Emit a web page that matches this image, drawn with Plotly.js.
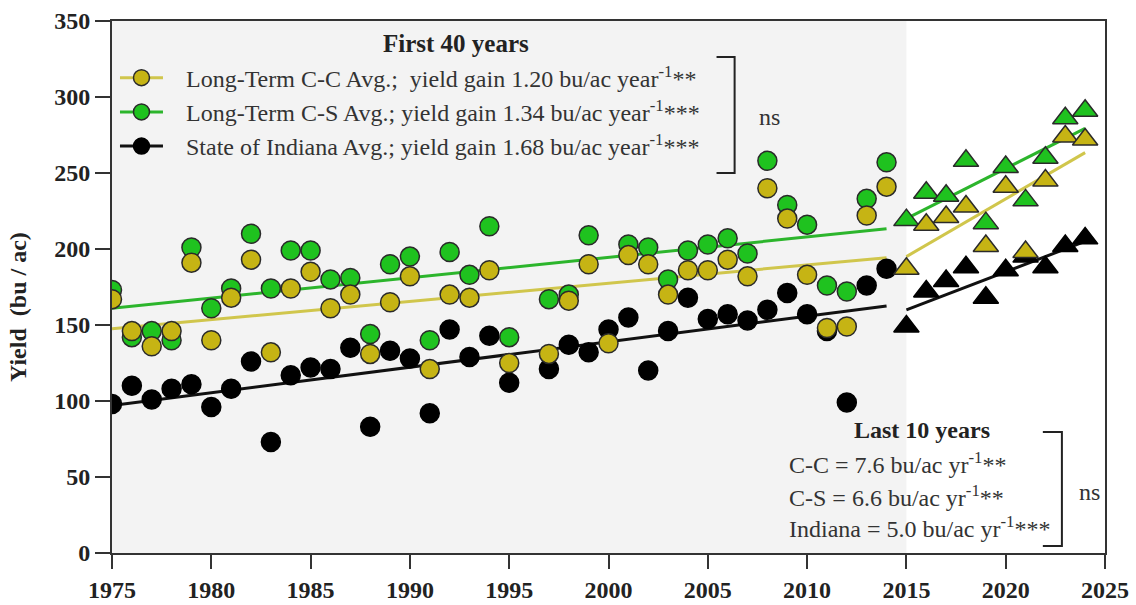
<!DOCTYPE html>
<html>
<head>
<meta charset="utf-8">
<script src="https://cdn.plot.ly/plotly-3.0.1.min.js"></script>
<style>html,body{margin:0;padding:0;background:#fff;}#chart{width:1136px;height:605px;}</style>
</head>
<body>
<div id="chart"></div>
<script>
// ---------- data ----------
const years40 = [1975,1976,1977,1978,1979,1980,1981,1982,1983,1984,1985,1986,1987,1988,1989,1990,1991,1992,1993,1994,1995,1997,1998,1999,2000,2001,2002,2003,2004,2005,2006,2007,2008,2009,2010,2011,2012,2013,2014];
const ccYield40 = [167,146,136,146,191,140,168,193,132,174,185,161,170,131,165,182,121,170,168,186,125,131,166,190,138,196,190,170,186,186,193,182,240,220,183,148,149,222,241];
const csYield40 = [173,142,146,140,201,161,174,210,174,199,199,180,181,144,190,195,140,198,183,215,142,167,170,209,null,203,201,180,199,203,207,197,258,229,216,176,172,233,257];
const indYield40 = [98,110,101,108,111,96,108,126,73,117,122,121,135,83,133,128,92,147,129,143,112,121,137,132,147,155,120,146,168,154,157,153,160,171,157,146,99,176,187];

const years10 = [2015,2016,2017,2018,2019,2020,2021,2022,2023,2024];
const ccYield10 = [187,216,221,228,202,241,198,245,274,272];
const csYield10 = [219,237,235,258,217,254,232,260,286,291];
const indYield10 = [149,172,179,188,168,186,195,188,202,207];

// fitted trend lines: value at first year of period and slope (bu/ac per year)
const trendNames = ['C-C','C-S','Indiana'];
const trendStart40 = [147.5,161,97];
const trendSlope40 = [1.20,1.34,1.68];
const trendStart10 = [195,220,160];
const trendSlope10 = [7.6,6.6,5.0];

const pad = '\u00a0\u00a0\u00a0';
const legendLabels = [
  pad + 'Long-Term C-C Avg.;\u00a0 yield gain 1.20 bu/ac year<sup>-1</sup>**',
  pad + 'Long-Term C-S Avg.; yield gain 1.34 bu/ac year<sup>-1</sup>***',
  pad + 'State of Indiana Avg.; yield gain 1.68 bu/ac year<sup>-1</sup>***'
];
const last10Labels = [
  'C-C = 7.6 bu/ac yr<sup>-1</sup>**',
  'C-S = 6.6 bu/ac yr<sup>-1</sup>**',
  'Indiana = 5.0 bu/ac yr<sup>-1</sup>***'
];

// ---------- styles ----------
const serif = 'Liberation Serif, Times New Roman, serif';
const fillCols = ['#c6b414','#1fc21f','#000000'];
const lineCols = ['#d0c64c','#2cb52c','#111111'];
const edge = '#2a2a2a';

const traces = [];
const first = (a)=>a[0], last=(a)=>a[a.length-1];
// trend lines (drawn under markers)
for (let i=0;i<3;i++){
  const x0=first(years40), x1=last(years40);
  traces.push({x:[x0,x1], y:[trendStart40[i], trendStart40[i]+trendSlope40[i]*(x1-x0)],
    mode:'lines', line:{color:lineCols[i], width:3}, showlegend:false, hoverinfo:'skip'});
  const u0=first(years10), u1=last(years10);
  traces.push({x:[u0,u1], y:[trendStart10[i], trendStart10[i]+trendSlope10[i]*(u1-u0)],
    mode:'lines', line:{color:lineCols[i], width:3}, showlegend:false, hoverinfo:'skip'});
}
// markers: Indiana, C-S, C-C (C-C on top)
const sets = [
  {i:2, y40:indYield40, y10:indYield10},
  {i:1, y40:csYield40, y10:csYield10},
  {i:0, y40:ccYield40, y10:ccYield10}
];
sets.forEach(s=>{
  const lc = s.i===2 ? '#000' : edge;
  traces.push({x:years40, y:s.y40, mode:'markers', showlegend:false,
    marker:{symbol:'circle', size:19, color:fillCols[s.i], line:{color:lc, width:1.5}}});
  traces.push({x:years10, y:s.y10, mode:'markers', showlegend:false,
    marker:{symbol:'triangle-up', size:22, color:fillCols[s.i], line:{color:lc, width:1.5}}});
});
// legend-only entries
for (let i=0;i<3;i++){
  traces.push({x:[null], y:[null], mode:'lines+markers', name:legendLabels[i], legendgroup:'g'+i,
    line:{color:lineCols[i], width:3},
    marker:{symbol:'circle', size:16, color:fillCols[i], line:{color: i===2?'#000':edge, width:1.5}}});
}

const ann = [];
ann.push({xref:'x', yref:'y', x:1992.3, y:335.5, text:'<b>First 40 years</b>', showarrow:false,
  font:{family:serif, size:25, color:'#222'}});
ann.push({xref:'x', yref:'y', x:2007.5, y:287, text:'ns', showarrow:false, xanchor:'left',
  font:{family:serif, size:24, color:'#333'}});
ann.push({xref:'x', yref:'y', x:2015.8, y:81, text:'<b>Last 10 years</b>', showarrow:false,
  font:{family:serif, size:24, color:'#222'}});
const l10y = [59, 37.5, 17];
last10Labels.forEach((t,k)=>{
  ann.push({xref:'x', yref:'y', x:2009.0, y:l10y[k], text:t, showarrow:false, xanchor:'left',
    font:{family:serif, size:24, color:'#333'}});
});
ann.push({xref:'x', yref:'y', x:2023.6, y:40, text:'ns', showarrow:false, xanchor:'left',
  font:{family:serif, size:24, color:'#333'}});
ann.push({xref:'paper', yref:'paper', x:-0.11, y:0.462, text:'<b>Yield\u00a0 (bu / ac)</b>', textangle:-90,
  showarrow:false, font:{family:serif, size:24, color:'#222'}});

const shapes = [
  {type:'rect', xref:'x', yref:'y', x0:1975, x1:2015, y0:0, y1:350, fillcolor:'#f3f3f3', line:{width:0}, layer:'below'},
  {type:'path', xref:'x', yref:'y', path:'M2005.44,326.3 H2006.35 V250.0 H2005.44', line:{color:'#222', width:2}},
  {type:'path', xref:'x', yref:'y', path:'M2021.87,79.6 H2022.83 V4.6 H2021.87', line:{color:'#222', width:2}}
];

const layout = {
  width:1136, height:605,
  margin:{l:112, r:31, t:21, b:52},
  paper_bgcolor:'#fff', plot_bgcolor:'#fff',
  showlegend:true,
  legend:{x:0.003, y:0.935, xanchor:'left', yanchor:'top', bgcolor:'rgba(0,0,0,0)',
    font:{family:serif, size:24, color:'#333'}, traceorder:'grouped', tracegroupgap:0, itemwidth:43},
  xaxis:{range:[1975,2025], tick0:1975, dtick:5, ticks:'outside', ticklen:14, tickwidth:2, tickcolor:'#333',
    showline:true, linecolor:'#333', linewidth:2, mirror:true, showgrid:false, zeroline:false,
    tickfont:{family:serif, size:24, color:'#222', weight:'bold'}},
  yaxis:{range:[0,350], dtick:50, ticks:'outside', ticklen:15, tickwidth:2, tickcolor:'#333',
    showline:true, linecolor:'#333', linewidth:2, mirror:true, showgrid:false, zeroline:false,
    tickfont:{family:serif, size:24, color:'#222', weight:'bold'}},
  annotations:ann, shapes:shapes
};
Plotly.newPlot('chart', traces, layout, {displayModeBar:false, staticPlot:true});
</script>
</body>
</html>
